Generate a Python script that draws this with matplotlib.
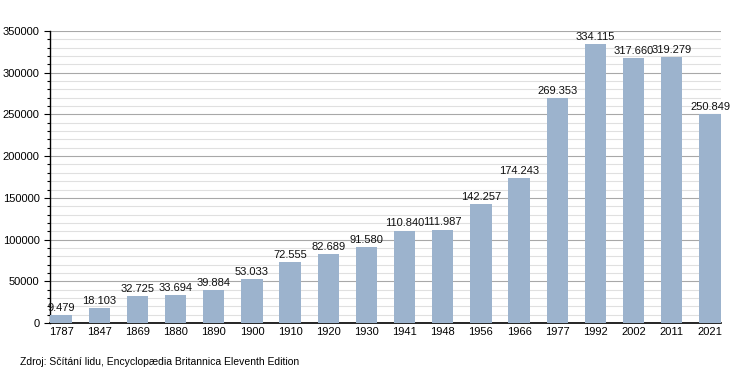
import matplotlib
matplotlib.use("Agg")
import matplotlib.pyplot as plt
from matplotlib.ticker import MultipleLocator

plt.rcParams['font.family'] = ['Liberation Sans', 'DejaVu Sans']

# Population by census year
years = ['1787', '1847', '1869', '1880', '1890', '1900', '1910', '1920', '1930',
         '1941', '1948', '1956', '1966', '1977', '1992', '2002', '2011', '2021']
population = [9479, 18103, 32725, 33694, 39884, 53033, 72555, 82689, 91580,
              110840, 111987, 142257, 174243, 269353, 334115, 317660, 319279, 250849]
source = 'Zdroj: Sčítání lidu, Encyclopædia Britannica Eleventh Edition'

fig = plt.figure(figsize=(7.5, 3.73), dpi=100)
ax = fig.add_axes([0.0667, 0.134, 0.8947, 0.783])

x = list(range(len(years)))
ax.bar(x, population, width=0.56, color='#9cb3cd', zorder=3)

for xi, v in zip(x, population):
    ax.text(xi, v + 2500, f'{v:,}'.replace(',', '.'), ha='center', va='bottom',
            fontsize=8, color='#111111', zorder=4)

ax.set_xlim(-0.29, len(years) - 1 + 0.29)
ax.set_ylim(0, 350000)
ax.set_xticks(x)
ax.set_xticklabels(years, fontsize=8)
ax.yaxis.set_major_locator(MultipleLocator(50000))
ax.yaxis.set_minor_locator(MultipleLocator(10000))
ax.tick_params(axis='y', which='major', labelsize=8, length=4, width=0.8)
ax.tick_params(axis='y', which='minor', length=2.5, width=0.8)
ax.tick_params(axis='x', length=0, pad=3)

ax.grid(axis='y', which='major', color='#a8a8a8', linewidth=0.8, zorder=0)
ax.grid(axis='y', which='minor', color='#e0e0e0', linewidth=0.8, zorder=0)

for s in ['top', 'right']:
    ax.spines[s].set_visible(False)
ax.spines['left'].set_linewidth(1.0)
ax.spines['bottom'].set_linewidth(1.2)

fig.text(20 / 750, 1 - 362 / 373, source, fontsize=7.5, va='center', ha='left')

fig.savefig('out.png', dpi=100)
